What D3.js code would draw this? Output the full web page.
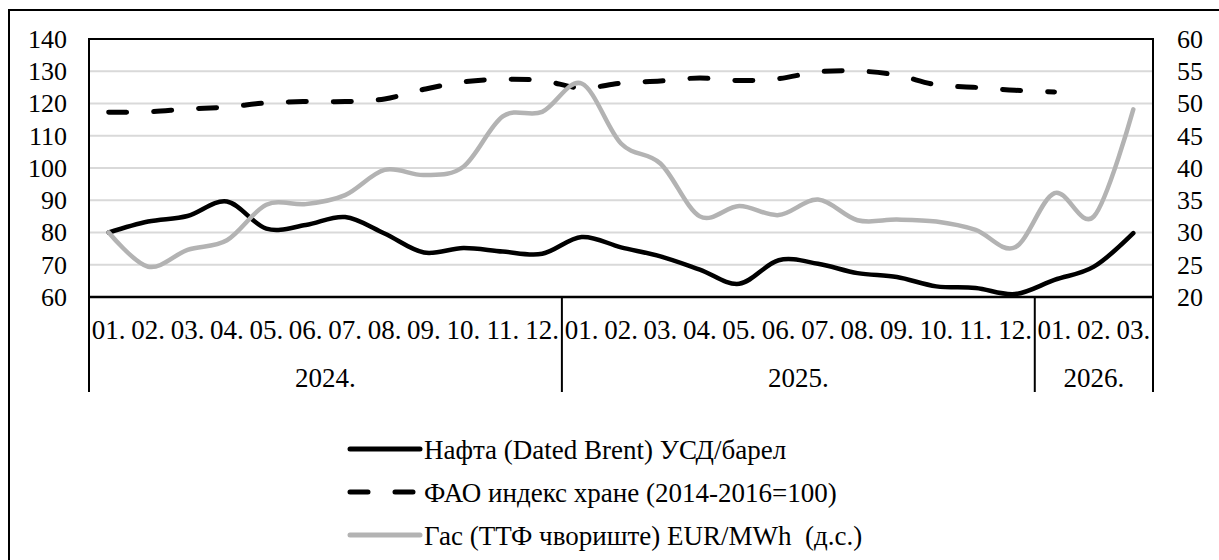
<!DOCTYPE html>
<html>
<head>
<meta charset="utf-8">
<script src="https://cdn.jsdelivr.net/npm/d3@7"></script>
</head>
<body style="margin:0">
<div id="chart"></div>
<script>
const width = 1219;
const height = 560;
const serif = "Liberation Serif";

// data
const months = ["01.", "02.", "03.", "04.", "05.", "06.", "07.", "08.", "09.", "10.", "11.", "12.",
                "01.", "02.", "03.", "04.", "05.", "06.", "07.", "08.", "09.", "10.", "11.", "12.",
                "01.", "02.", "03."];
const yearLabels = ["2024.", "2025.", "2026."];
const yearCounts = [12, 12, 3];

const brent = [80, 83.4, 85.1, 89.6, 81.2, 82.3, 84.8, 79.7, 73.8, 75.2, 74.1, 73.4,
               78.6, 75.4, 72.6, 68.5, 64.1, 71.4, 70.3, 67.4, 66.2, 63.3, 62.8, 60.9,
               65.3, 69.4, 79.8];
const fao = [117.3, 117.4, 118.3, 118.9, 120.2, 120.6, 120.6, 121.4, 124.4, 126.7, 127.5, 127.1,
             124.8, 126.3, 127, 127.9, 127.1, 127.7, 129.8, 130.1, 128.8, 125.8, 125, 124.1,
             123.6, null, null];
const gas = [30, 24.7, 27.3, 28.8, 34.3, 34.4, 35.8, 39.7, 38.9, 40.2, 48, 48.7,
             53.1, 43.8, 40.7, 32.5, 34.1, 32.7, 35.1, 31.9, 32, 31.7, 30.4, 27.7,
             36.1, 32.5, 49.1];

const leftTicks = [60, 70, 80, 90, 100, 110, 120, 130, 140];
const rightTicks = [20, 25, 30, 35, 40, 45, 50, 55, 60];

const legendNames = ["Нафта (Dated Brent) УСД/барел",
                     "ФАО индекс хране (2014-2016=100)",
                     "Гас (ТТФ чвориште)\u00a0EUR/MWh\u00a0 (д.с.)"];

const plot = { left: 89, right: 1153, top: 39, bottom: 297 };

const svg = d3.select("#chart")
            .append("svg")
            .attr("width", width)
            .attr("height", height)

// outer chart border (runs off right/bottom)
svg.append("rect")
    .attr("x", 9).attr("y", 10)
    .attr("width", 1230).attr("height", 600)
    .attr("fill", "none").attr("stroke", "#000").attr("stroke-width", 2)

const x = d3.scaleBand()
    .domain(d3.range(months.length))
    .range([plot.left, plot.right])
    .padding(0)

const yL = d3.scaleLinear().domain([60, 140]).range([plot.bottom, plot.top]);
const yR = d3.scaleLinear().domain([20, 60]).range([plot.bottom, plot.top]);

// gridlines
svg.append("g")
    .selectAll("line")
    .data(leftTicks.slice(1, -1))
    .join("line")
        .attr("x1", plot.left).attr("x2", plot.right)
        .attr("y1", d => yL(d)).attr("y2", d => yL(d))
        .attr("stroke", "#d9d9d9").attr("stroke-width", 2)

// plot frame
svg.append("path")
    .attr("d", `M${plot.left},${plot.bottom}V${plot.top}H${plot.right}V${plot.bottom}`)
    .attr("fill", "none").attr("stroke", "#000").attr("stroke-width", 2)

// left axis
const axL = svg.append("g")
    .attr("transform", `translate(${plot.left},0)`)
    .call(d3.axisLeft(yL).tickValues(leftTicks).tickSize(0).tickPadding(22))
axL.attr("font-family", serif).attr("font-size", 26)
axL.select(".domain").remove()
axL.selectAll("text").attr("fill", "#000")

// right axis
const axR = svg.append("g")
    .attr("transform", `translate(${plot.right},0)`)
    .call(d3.axisRight(yR).tickValues(rightTicks).tickSize(0).tickPadding(24))
axR.attr("font-family", serif).attr("font-size", 26)
axR.select(".domain").remove()
axR.selectAll("text").attr("fill", "#000")

// lines
const xc = i => x(i) + x.bandwidth() / 2;
const curve = d3.curveCardinal.tension(0);

const lineL = d3.line()
    .defined(d => d != null)
    .x((d, i) => xc(i))
    .y(d => yL(d))
    .curve(curve)
const lineR = d3.line()
    .defined(d => d != null)
    .x((d, i) => xc(i))
    .y(d => yR(d))
    .curve(curve)

svg.append("path")
    .attr("d", lineL(brent))
    .attr("fill", "none").attr("stroke", "#000").attr("stroke-width", 4.5)
    .attr("stroke-linejoin", "round").attr("stroke-linecap", "round")

svg.append("path")
    .attr("d", lineL(fao))
    .attr("fill", "none").attr("stroke", "#000").attr("stroke-width", 5)
    .attr("stroke-dasharray", "18,27")
    .attr("stroke-linecap", "round")

svg.append("path")
    .attr("d", lineR(gas))
    .attr("fill", "none").attr("stroke", "#b3b3b3").attr("stroke-width", 4.5)
    .attr("stroke-linejoin", "round").attr("stroke-linecap", "round")

// x axis line
svg.append("line")
    .attr("x1", plot.left).attr("x2", plot.right)
    .attr("y1", plot.bottom).attr("y2", plot.bottom)
    .attr("stroke", "#000").attr("stroke-width", 2.5)

// month labels
svg.append("g")
    .attr("font-family", serif).attr("font-size", 27)
    .selectAll("text")
    .data(months)
    .join("text")
        .attr("x", (d, i) => xc(i))
        .attr("y", 339)
        .attr("text-anchor", "middle")
        .text(d => d)

// year groups
let starts = [0];
yearCounts.forEach((c, i) => starts.push(starts[i] + c));

svg.append("g")
    .selectAll("line")
    .data(starts)
    .join("line")
        .attr("x1", d => d < months.length ? x(d) : plot.right)
        .attr("x2", d => d < months.length ? x(d) : plot.right)
        .attr("y1", plot.bottom).attr("y2", 392)
        .attr("stroke", "#000").attr("stroke-width", 2)

svg.append("g")
    .attr("font-family", serif).attr("font-size", 27)
    .selectAll("text")
    .data(yearLabels)
    .join("text")
        .attr("x", (d, i) => {
            const a = x(starts[i]);
            const b = starts[i + 1] < months.length ? x(starts[i + 1]) : plot.right;
            return (a + b) / 2;
        })
        .attr("y", 387)
        .attr("text-anchor", "middle")
        .text(d => d)

// legend
const legend = svg.append("g")
    .attr("transform", "translate(348, 0)")
    .attr("font-family", serif).attr("font-size", 27)
const rows = [
    { name: legendNames[0], color: "#000", dash: null, y: 449 },
    { name: legendNames[1], color: "#000", dash: "18,27", y: 492 },
    { name: legendNames[2], color: "#b3b3b3", dash: null, y: 535 }
];
rows.forEach(r => {
    legend.append("line")
        .attr("x1", 2).attr("x2", 72)
        .attr("y1", r.y).attr("y2", r.y)
        .attr("stroke", r.color).attr("stroke-width", 5)
        .attr("stroke-linecap", "round")
        .attr("stroke-dasharray", r.dash)
    legend.append("text")
        .attr("x", 76).attr("y", r.y + 9.5)
        .text(r.name)
});
</script>
</body>
</html>
